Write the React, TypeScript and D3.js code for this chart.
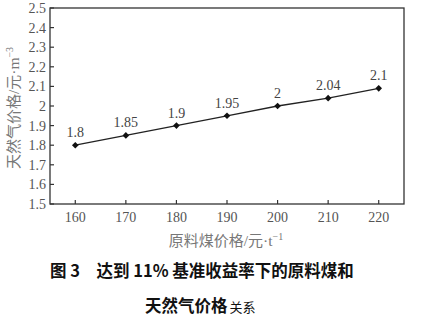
import React from "react";
import * as d3 from "d3";

const coalPrices = [160, 170, 180, 190, 200, 210, 220];
const gasPrices = [1.8, 1.85, 1.9, 1.95, 2.0, 2.04, 2.09];
const pointLabels = ["1.8", "1.85", "1.9", "1.95", "2", "2.04", "2.1"];
const yTicks = [1.5, 1.6, 1.7, 1.8, 1.9, 2.0, 2.1, 2.2, 2.3, 2.4, 2.5];
const xTicks = [160, 170, 180, 190, 200, 210, 220];

const W = 423, H = 322;
const L = 50, R = 404, T = 8, B = 204;

export default function App() {
  const x = d3.scaleLinear().domain([155, 225]).range([L, R]);
  const y = d3.scaleLinear().domain([1.5, 2.5]).range([B, T]);
  const line = d3.line<number>().x((_, i) => x(coalPrices[i])).y((d) => y(d));
  const serif = "Liberation Serif, DejaVu Serif, serif";
  const cjk = "Noto Sans CJK SC, sans-serif";
  const axisColor = "#333";
  const diamond = d3.symbol().type(d3.symbolSquare).size(22)();
  return (
    <svg width={W} height={H} style={{ position: "absolute", left: 0, top: 0, background: "#fff" }}>
      <rect x={0} y={0} width={W} height={H} fill="#fff" />
      <rect x={L} y={T} width={R - L} height={B - T} fill="none" stroke={axisColor} strokeWidth={1.3} />
      {yTicks.map((t) => (
        <g key={t}>
          <line x1={L} x2={L + 4} y1={y(t)} y2={y(t)} stroke={axisColor} strokeWidth={1.2} />
          <text x={L - 4} y={y(t)} dy="0.35em" textAnchor="end" style={{ fontFamily: serif }} fontSize={14} fill="#555">
            {String(+t.toFixed(1))}
          </text>
        </g>
      ))}
      {xTicks.map((t) => (
        <g key={t}>
          <line x1={x(t)} x2={x(t)} y1={B} y2={B - 4} stroke={axisColor} strokeWidth={1.2} />
          <text x={x(t)} y={B + 18} textAnchor="middle" style={{ fontFamily: serif }} fontSize={14} fill="#555">
            {t}
          </text>
        </g>
      ))}
      <path d={line(gasPrices) || ""} fill="none" stroke="#222" strokeWidth={1.3} />
      {gasPrices.map((v, i) => (
        <g key={i}>
          <path d={diamond || ""} transform={`translate(${x(coalPrices[i])},${y(v)}) rotate(45)`} fill="#111" />
          <text x={x(coalPrices[i])} y={y(v) - 8} textAnchor="middle" style={{ fontFamily: serif }} fontSize={14} fill="#444">
            {pointLabels[i]}
          </text>
        </g>
      ))}
      <text transform={`translate(19,${(T + B) / 2 + 2}) rotate(-90)`} textAnchor="middle" style={{ fontFamily: serif }} fontSize={15.5} fill="#777">
        <tspan style={{ fontFamily: cjk }} fontSize={15}>天然气价格</tspan>
        <tspan>/</tspan>
        <tspan style={{ fontFamily: cjk }} fontSize={15}>元</tspan>
        <tspan>·m</tspan>
        <tspan fontSize={10} dy={-6}>−3</tspan>
      </text>
      <text x={226} y={246} textAnchor="middle" style={{ fontFamily: serif }} fontSize={15.5} fill="#777">
        <tspan style={{ fontFamily: cjk }} fontSize={15}>原料煤价格</tspan>
        <tspan>/</tspan>
        <tspan style={{ fontFamily: cjk }} fontSize={15}>元</tspan>
        <tspan>·t</tspan>
        <tspan fontSize={10} dy={-6}>−1</tspan>
      </text>
      <text x={50} y={277} style={{ fontFamily: cjk }} fontSize={16.5} fontWeight="bold" fill="#111">
        图 3　达到 11% 基准收益率下的原料煤和
      </text>
      <text x={145} y={312} style={{ fontFamily: cjk }} fontSize={16.5} fontWeight="bold" fill="#111">
        天然气价格<tspan fontSize={13} fontWeight="normal" dx={2}>关系</tspan>
      </text>
    </svg>
  );
}
